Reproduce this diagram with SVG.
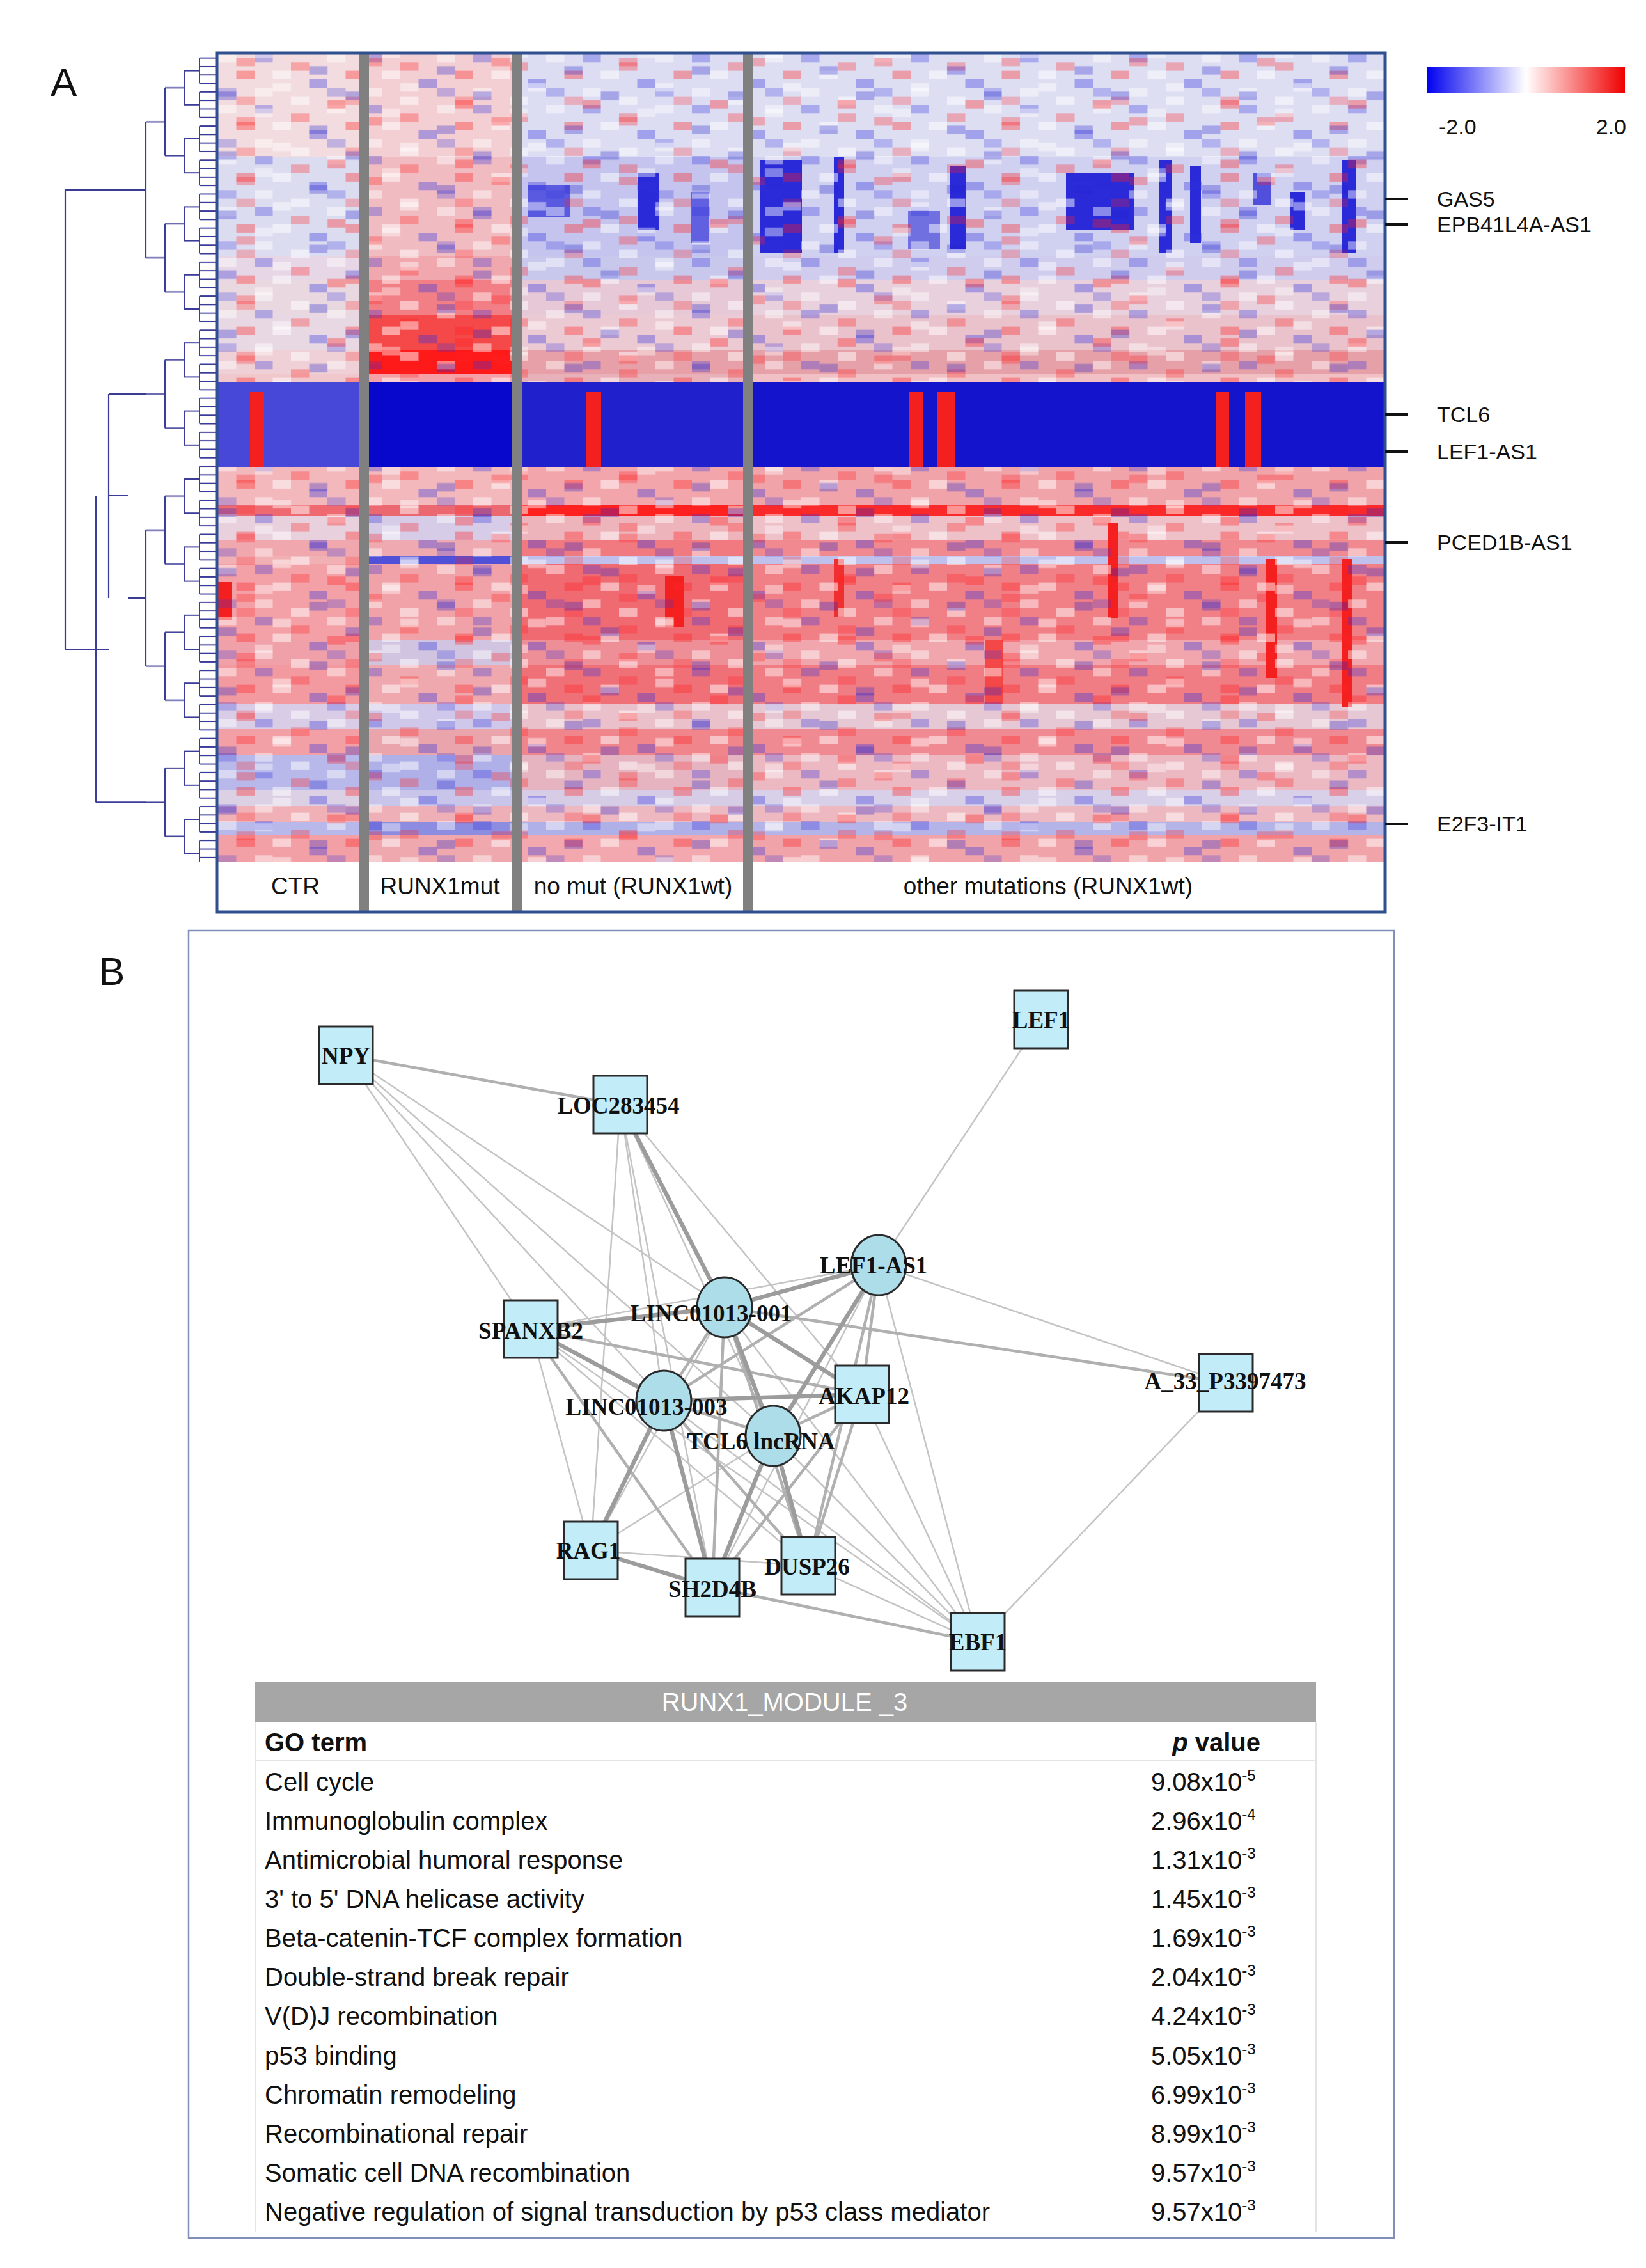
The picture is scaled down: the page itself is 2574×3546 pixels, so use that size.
<svg xmlns="http://www.w3.org/2000/svg" width="2574" height="3546" viewBox="0 0 2574 3546">
<style>
.lbl{font-family:"Liberation Sans",Arial,sans-serif;font-size:34px;fill:#111}
.cl{font-family:"Liberation Sans",Arial,sans-serif;font-size:37px;fill:#111;text-anchor:middle}
.nl{font-family:"Liberation Serif","Times New Roman",serif;font-weight:bold;font-size:37px;fill:#111;text-anchor:middle}
.sq{fill:#c2ecf8;stroke:#2a2a2a;stroke-width:3}
.ci{fill:#acdde9;stroke:#2a2a2a;stroke-width:3}
.e1{stroke:#c4c4c4;stroke-width:2.5;fill:none}
.e2{stroke:#b0b0b0;stroke-width:4.5;fill:none}
.e3{stroke:#9c9c9c;stroke-width:6.5;fill:none}
.tt{font-family:"Liberation Sans",Arial,sans-serif;font-size:40px;fill:#111}
.dd{stroke:#3b3b98;stroke-width:2.2;fill:none}
</style>
<defs>
<linearGradient id="lg" x1="0" x2="1" y1="0" y2="0">
<stop offset="0" stop-color="#0000f0"/><stop offset="0.45" stop-color="#e6e6ff"/><stop offset="0.5" stop-color="#ffffff"/><stop offset="0.55" stop-color="#ffe6e6"/><stop offset="1" stop-color="#f00000"/>
</linearGradient>
<pattern id="nz1" patternUnits="userSpaceOnUse" x="341" y="84" width="171" height="80">
<rect x="0" y="0" width="28.5" height="13.3" fill="#fff" opacity="0.45"/>
<rect x="57" y="0" width="28.5" height="13.3" fill="#3030e0" opacity="0.3"/>
<rect x="114" y="13.3" width="28.5" height="13.3" fill="#ff2020" opacity="0.3"/>
<rect x="28.5" y="26.6" width="28.5" height="13.3" fill="#ff2020" opacity="0.35"/>
<rect x="85.5" y="26.6" width="28.5" height="13.3" fill="#fff" opacity="0.5"/>
<rect x="142.5" y="40" width="28.5" height="13.3" fill="#3030e0" opacity="0.35"/>
<rect x="0" y="53.3" width="28.5" height="13.3" fill="#3030e0" opacity="0.25"/>
<rect x="57" y="53.3" width="28.5" height="13.3" fill="#fff" opacity="0.45"/>
<rect x="114" y="66.6" width="28.5" height="13.3" fill="#fff" opacity="0.5"/>
<rect x="28.5" y="66.6" width="28.5" height="13.3" fill="#ff2020" opacity="0.25"/>
</pattern>
<pattern id="nz2" patternUnits="userSpaceOnUse" x="341" y="90" width="199.5" height="93.1">
<rect x="28.5" y="0" width="28.5" height="13.3" fill="#ff2020" opacity="0.3"/>
<rect x="142.5" y="13.3" width="28.5" height="13.3" fill="#2020d0" opacity="0.3"/>
<rect x="85.5" y="39.9" width="28.5" height="13.3" fill="#fff" opacity="0.45"/>
<rect x="0" y="53.2" width="28.5" height="13.3" fill="#2020d0" opacity="0.3"/>
<rect x="171" y="66.5" width="28.5" height="13.3" fill="#ff2020" opacity="0.35"/>
<rect x="57" y="79.8" width="28.5" height="13.3" fill="#fff" opacity="0.4"/>
</pattern>
<pattern id="d0" patternUnits="userSpaceOnUse" x="0" y="84" width="338" height="13.3">
<path d="M312 6.65H338" stroke="#3b3b98" stroke-width="2"/>
</pattern>
<pattern id="d1" patternUnits="userSpaceOnUse" x="0" y="84" width="338" height="53.2">
<path d="M312 6.65V46.55M288 26.6H312" stroke="#3b3b98" stroke-width="2" fill="none"/>
</pattern>
<pattern id="d2" patternUnits="userSpaceOnUse" x="0" y="84" width="338" height="106.4">
<path d="M288 26.6V79.8M258 53.2H288" stroke="#3b3b98" stroke-width="2" fill="none"/>
</pattern>
<pattern id="d3" patternUnits="userSpaceOnUse" x="0" y="84" width="338" height="212.8">
<path d="M258 53.2V159.6M228 106.4H258" stroke="#3b3b98" stroke-width="2" fill="none"/>
</pattern>
</defs>
<rect width="2574" height="3546" fill="#fff"/>

<g id="panelA">
<text x="79" y="150" font-family="Liberation Sans,Arial,sans-serif" font-size="62" fill="#111">A</text>
<g id="dendrogram">
<rect x="220" y="84" width="118" height="1264" fill="url(#d0)"/>
<rect x="220" y="84" width="118" height="1264" fill="url(#d1)"/>
<rect x="220" y="84" width="118" height="1264" fill="url(#d2)"/>
<rect x="220" y="84" width="118" height="1277" fill="url(#d3)"/>
<path class="dd" d="M228 190.4V403.2M190 297H228M228 828.8V1041.6M200 935H228M170 616H228M170 616V935M170 775H200M228 1254.4H150M150 775V1254.4M150 1015H170M102 297V1015M102 297H190M102 1015H150"/>
</g>
<g id="heatmap">
<g id="cells">
<rect x="341" y="84" width="220" height="162" fill="#f2dcdf"/><rect x="577" y="84" width="224" height="162" fill="#f3cfd3"/><rect x="817" y="84" width="345" height="162" fill="#dcdcf2"/><rect x="1178" y="84" width="986" height="162" fill="#dedef3"/>
<rect x="341" y="246" width="220" height="154" fill="#dcdcf0"/><rect x="577" y="246" width="224" height="154" fill="#f1bcc1"/><rect x="817" y="246" width="345" height="154" fill="#c4c4ee"/><rect x="1178" y="246" width="986" height="154" fill="#d0d0f0"/>
<rect x="341" y="400" width="220" height="37" fill="#e6d6e6"/><rect x="577" y="400" width="224" height="37" fill="#f0a8ae"/><rect x="817" y="400" width="345" height="37" fill="#c8c8ec"/><rect x="1178" y="400" width="986" height="37" fill="#d0cced"/>
<rect x="341" y="437" width="220" height="56" fill="#ead8e0"/><rect x="577" y="437" width="224" height="56" fill="#f27f86"/><rect x="817" y="437" width="345" height="56" fill="#e6c8d6"/><rect x="1178" y="437" width="986" height="56" fill="#e8d0dc"/>
<rect x="341" y="493" width="220" height="55" fill="#e8d8e4"/><rect x="577" y="493" width="224" height="55" fill="#f54848"/><rect x="817" y="493" width="345" height="55" fill="#eccad4"/><rect x="1178" y="493" width="986" height="55" fill="#eac2cc"/>
<rect x="341" y="548" width="220" height="37" fill="#eed0d6"/><rect x="577" y="548" width="224" height="37" fill="#ff1a1a"/><rect x="817" y="548" width="345" height="37" fill="#e8a0a8"/><rect x="1178" y="548" width="986" height="37" fill="#e6a0a8"/>
<rect x="341" y="585" width="220" height="13" fill="#f0c8cc"/><rect x="577" y="585" width="224" height="13" fill="#f4a0a6"/><rect x="817" y="585" width="345" height="13" fill="#e8b0b8"/><rect x="1178" y="585" width="986" height="13" fill="#f0c0c4"/>
<rect x="341" y="598" width="220" height="132" fill="#4848d8"/><rect x="577" y="598" width="224" height="132" fill="#0808cc"/><rect x="817" y="598" width="345" height="132" fill="#2020cc"/><rect x="1178" y="598" width="986" height="132" fill="#1414cc"/>
<rect x="341" y="730" width="220" height="60" fill="#f3b8bc"/><rect x="577" y="730" width="224" height="60" fill="#f2b8bc"/><rect x="817" y="730" width="345" height="60" fill="#f2a6ac"/><rect x="1178" y="730" width="986" height="60" fill="#f0a4aa"/>
<rect x="341" y="790" width="220" height="16" fill="#ef6a70"/><rect x="577" y="790" width="224" height="16" fill="#ec6870"/><rect x="817" y="790" width="345" height="16" fill="#ff2020"/><rect x="1178" y="790" width="986" height="16" fill="#fa2a2a"/>
<rect x="341" y="806" width="220" height="39" fill="#e8d0dc"/><rect x="577" y="806" width="224" height="39" fill="#d6cce8"/><rect x="817" y="806" width="345" height="39" fill="#eeb4bc"/><rect x="1178" y="806" width="986" height="39" fill="#eec0c8"/>
<rect x="341" y="845" width="220" height="25" fill="#f0a8ae"/><rect x="577" y="845" width="224" height="25" fill="#eeaab0"/><rect x="817" y="845" width="345" height="25" fill="#f07a80"/><rect x="1178" y="845" width="986" height="25" fill="#f08a90"/>
<rect x="341" y="870" width="220" height="12" fill="#f0b0b4"/><rect x="577" y="870" width="224" height="12" fill="#5050d8"/><rect x="817" y="870" width="345" height="12" fill="#c0c0ec"/><rect x="1178" y="870" width="986" height="12" fill="#c0c0ec"/>
<rect x="341" y="882" width="220" height="118" fill="#f3a0a6"/><rect x="577" y="882" width="224" height="118" fill="#f1a2a8"/><rect x="817" y="882" width="345" height="118" fill="#f06a72"/><rect x="1178" y="882" width="986" height="118" fill="#f17f86"/>
<rect x="341" y="1000" width="220" height="40" fill="#f0a0a8"/><rect x="577" y="1000" width="224" height="40" fill="#d0c4e0"/><rect x="817" y="1000" width="345" height="40" fill="#ee8e96"/><rect x="1178" y="1000" width="986" height="40" fill="#f0a6ac"/>
<rect x="341" y="1040" width="220" height="60" fill="#f29aa0"/><rect x="577" y="1040" width="224" height="60" fill="#efa8ae"/><rect x="817" y="1040" width="345" height="60" fill="#f07078"/><rect x="1178" y="1040" width="986" height="60" fill="#f07c84"/>
<rect x="341" y="1100" width="220" height="40" fill="#d8cce6"/><rect x="577" y="1100" width="224" height="40" fill="#d0c8ea"/><rect x="817" y="1100" width="345" height="40" fill="#eac0ca"/><rect x="1178" y="1100" width="986" height="40" fill="#e6c8d4"/>
<rect x="341" y="1140" width="220" height="40" fill="#f2a0a6"/><rect x="577" y="1140" width="224" height="40" fill="#eaa4ac"/><rect x="817" y="1140" width="345" height="40" fill="#f0868c"/><rect x="1178" y="1140" width="986" height="40" fill="#f08a92"/>
<rect x="341" y="1180" width="220" height="55" fill="#b8b8ea"/><rect x="577" y="1180" width="224" height="55" fill="#b0b0e8"/><rect x="817" y="1180" width="345" height="55" fill="#e6b4c0"/><rect x="1178" y="1180" width="986" height="55" fill="#ecb8c2"/>
<rect x="341" y="1235" width="220" height="25" fill="#dcd0e4"/><rect x="577" y="1235" width="224" height="25" fill="#c8c4ea"/><rect x="817" y="1235" width="345" height="25" fill="#d6cce6"/><rect x="1178" y="1235" width="986" height="25" fill="#d8d0e8"/>
<rect x="341" y="1260" width="220" height="25" fill="#f0b0b6"/><rect x="577" y="1260" width="224" height="25" fill="#eeb0b6"/><rect x="817" y="1260" width="345" height="25" fill="#eeb8c0"/><rect x="1178" y="1260" width="986" height="25" fill="#eeb8c0"/>
<rect x="341" y="1285" width="220" height="20" fill="#b8b8ea"/><rect x="577" y="1285" width="224" height="20" fill="#8c8ce0"/><rect x="817" y="1285" width="345" height="20" fill="#b0b0e8"/><rect x="1178" y="1285" width="986" height="20" fill="#b4b4e8"/>
<rect x="341" y="1305" width="220" height="43" fill="#f2a0a6"/><rect x="577" y="1305" width="224" height="43" fill="#eea8ae"/><rect x="817" y="1305" width="345" height="43" fill="#f2a8ae"/><rect x="1178" y="1305" width="986" height="43" fill="#f0a4aa"/>
<g fill="#2a2ad8">
<rect x="1188" y="250" width="66" height="146"/><rect x="1304" y="246" width="16" height="150"/><rect x="1485" y="260" width="25" height="130"/><rect x="1667" y="270" width="107" height="90"/><rect x="1812" y="250" width="20" height="146"/><rect x="1861" y="260" width="17" height="120"/><rect x="2017" y="300" width="23" height="60"/><rect x="2099" y="250" width="21" height="146"/><rect x="998" y="270" width="33" height="90"/><rect x="825" y="290" width="66" height="50" fill="#5a5ae0"/><rect x="1080" y="300" width="28" height="80" fill="#6060e0"/><rect x="1420" y="330" width="50" height="60" fill="#7070e0"/><rect x="1960" y="270" width="28" height="50" fill="#5050dc"/>
</g>
<g fill="#f42020">
<rect x="391" y="613" width="22" height="117"/><rect x="917" y="613" width="23" height="117"/><rect x="1422" y="613" width="22" height="117"/><rect x="1465" y="613" width="28" height="117"/><rect x="1901" y="613" width="21" height="117"/><rect x="1947" y="613" width="25" height="117"/>
<rect x="1304" y="874" width="16" height="90" fill="#f03030"/><rect x="1733" y="818" width="16" height="148"/><rect x="1980" y="874" width="17" height="186"/><rect x="2099" y="874" width="16" height="232"/><rect x="341" y="910" width="22" height="60"/><rect x="1040" y="900" width="30" height="80"/><rect x="1540" y="1000" width="28" height="100" fill="#f44848"/>
</g>
<rect x="341" y="84" width="1823" height="514" fill="url(#nz1)"/>
<rect x="341" y="84" width="1823" height="514" fill="url(#nz2)"/>
<rect x="341" y="730" width="1823" height="618" fill="url(#nz1)"/>
<rect x="341" y="730" width="1823" height="618" fill="url(#nz2)"/>
</g>
<rect x="341" y="1348" width="1823" height="77" fill="#fff"/>
<g fill="#808080"><rect x="561" y="84" width="16" height="1341"/><rect x="801" y="84" width="16" height="1341"/><rect x="1162" y="84" width="16" height="1341"/></g>
<rect x="339" y="83" width="1827" height="1343" fill="none" stroke="#2f4f8f" stroke-width="5"/>
<g class="cl">
<text x="462" y="1398">CTR</text><text x="688" y="1398">RUNX1mut</text><text x="990" y="1398">no mut (RUNX1wt)</text><text x="1639" y="1398">other mutations (RUNX1wt)</text>
</g>
</g>
<g id="legend">
<rect x="2231" y="104" width="310" height="42" fill="url(#lg)"/>
<text class="lbl" x="2250" y="210" font-size="40">-2.0</text>
<text class="lbl" x="2543" y="210" font-size="40" text-anchor="end">2.0</text>
</g>
<g id="genelabels">
<g stroke="#111" stroke-width="4"><path d="M2166 311H2202M2166 351H2202M2166 648H2202M2166 706H2202M2166 848H2202M2166 1288H2202"/></g>
<g class="lbl"><text x="2247" y="323">GAS5</text><text x="2247" y="363">EPB41L4A-AS1</text><text x="2247" y="660">TCL6</text><text x="2247" y="718">LEF1-AS1</text><text x="2247" y="860">PCED1B-AS1</text><text x="2247" y="1300">E2F3-IT1</text></g>
</g>
</g>

<g id="panelB">
<text x="154" y="1540" font-family="Liberation Sans,Arial,sans-serif" font-size="62" fill="#111">B</text>
<rect x="295" y="1455" width="1885" height="2044" fill="none" stroke="#8090b8" stroke-width="2.5"/>
<g id="connectors">
<g class="e1">
<line x1="1628" y1="1594" x2="1374" y2="1978"/><line x1="541" y1="1650" x2="830" y2="2078"/><line x1="541" y1="1650" x2="1133" y2="2044"/><line x1="541" y1="1650" x2="1038" y2="2190"/><line x1="541" y1="1650" x2="1209" y2="2245"/>
<line x1="970" y1="1727" x2="1038" y2="2190"/><line x1="970" y1="1727" x2="1209" y2="2245"/><line x1="970" y1="1727" x2="1348" y2="2180"/><line x1="970" y1="1727" x2="924" y2="2424"/><line x1="970" y1="1727" x2="1114" y2="2482"/>
<line x1="1374" y1="1978" x2="1917" y2="2162"/><line x1="1374" y1="1978" x2="1529" y2="2567"/><line x1="1374" y1="1978" x2="830" y2="2078"/><line x1="1374" y1="1978" x2="1114" y2="2482"/>
<line x1="1133" y1="2044" x2="1529" y2="2567"/><line x1="1133" y1="2044" x2="924" y2="2424"/>
<line x1="830" y1="2078" x2="924" y2="2424"/><line x1="830" y1="2078" x2="1264" y2="2448"/><line x1="830" y1="2078" x2="1529" y2="2567"/>
<line x1="1038" y1="2190" x2="1529" y2="2567"/><line x1="1209" y1="2245" x2="1529" y2="2567"/><line x1="1209" y1="2245" x2="924" y2="2424"/>
<line x1="1348" y1="2180" x2="1529" y2="2567"/><line x1="1917" y1="2162" x2="1529" y2="2567"/><line x1="1264" y1="2448" x2="1529" y2="2567"/><line x1="924" y1="2424" x2="1264" y2="2448"/>
</g>
<g class="e2">
<line x1="541" y1="1650" x2="970" y2="1727"/><line x1="1133" y1="2044" x2="1917" y2="2162"/><line x1="1133" y1="2044" x2="1038" y2="2190"/><line x1="1133" y1="2044" x2="1114" y2="2482"/><line x1="1133" y1="2044" x2="1264" y2="2448"/>
<line x1="830" y1="2078" x2="1348" y2="2180"/><line x1="830" y1="2078" x2="1114" y2="2482"/><line x1="1038" y1="2190" x2="1264" y2="2448"/><line x1="1038" y1="2190" x2="1209" y2="2245"/>
<line x1="1374" y1="1978" x2="1038" y2="2190"/><line x1="1374" y1="1978" x2="1348" y2="2180"/><line x1="1374" y1="1978" x2="1264" y2="2448"/>
<line x1="1348" y1="2180" x2="1264" y2="2448"/><line x1="1348" y1="2180" x2="1114" y2="2482"/><line x1="1209" y1="2245" x2="1348" y2="2180"/><line x1="1114" y1="2482" x2="1529" y2="2567"/>
</g>
<g class="e3">
<line x1="970" y1="1727" x2="1133" y2="2044"/><line x1="1374" y1="1978" x2="1133" y2="2044"/><line x1="1374" y1="1978" x2="1209" y2="2245"/><line x1="1133" y1="2044" x2="830" y2="2078"/>
<line x1="1133" y1="2044" x2="1348" y2="2180"/><line x1="1133" y1="2044" x2="1209" y2="2245"/><line x1="830" y1="2078" x2="1038" y2="2190"/><line x1="1038" y1="2190" x2="1348" y2="2180"/>
<line x1="1038" y1="2190" x2="924" y2="2424"/><line x1="1038" y1="2190" x2="1114" y2="2482"/><line x1="1209" y1="2245" x2="1114" y2="2482"/><line x1="1209" y1="2245" x2="1264" y2="2448"/><line x1="924" y1="2424" x2="1114" y2="2482"/>
</g>
</g>
<g id="n-NPY"><rect class="sq" x="499" y="1605" width="84" height="90"/><text class="nl" x="541" y="1663">NPY</text></g>
<g id="n-LEF1"><rect class="sq" x="1586" y="1549" width="84" height="90"/><text class="nl" x="1628" y="1607">LEF1</text></g>
<g id="n-LOC283454"><rect class="sq" x="928" y="1682" width="84" height="90"/><text class="nl" x="967" y="1741">LOC283454</text></g>
<g id="n-SPANXB2"><rect class="sq" x="788" y="2033" width="84" height="90"/><text class="nl" x="830" y="2093">SPANXB2</text></g>
<g id="n-AKAP12"><rect class="sq" x="1306" y="2135" width="84" height="90"/><text class="nl" x="1351" y="2195">AKAP12</text></g>
<g id="n-A33"><rect class="sq" x="1875" y="2117" width="84" height="90"/><text class="nl" x="1916" y="2172">A_33_P3397473</text></g>
<g id="n-RAG1"><rect class="sq" x="882" y="2379" width="84" height="90"/><text class="nl" x="920" y="2437">RAG1</text></g>
<g id="n-DUSP26"><rect class="sq" x="1222" y="2403" width="84" height="90"/><text class="nl" x="1262" y="2462">DUSP26</text></g>
<g id="n-SH2D4B"><rect class="sq" x="1072" y="2437" width="84" height="90"/><text class="nl" x="1114" y="2497">SH2D4B</text></g>
<g id="n-EBF1"><rect class="sq" x="1487" y="2522" width="84" height="90"/><text class="nl" x="1529" y="2580">EBF1</text></g>
<g id="n-LEF1-AS1"><ellipse class="ci" cx="1374" cy="1978" rx="43" ry="47"/><text class="nl" x="1366" y="1991">LEF1-AS1</text></g>
<g id="n-LINC01013-001"><ellipse class="ci" cx="1133" cy="2044" rx="43" ry="47"/><text class="nl" x="1112" y="2066">LINC01013-001</text></g>
<g id="n-LINC01013-003"><ellipse class="ci" cx="1038" cy="2190" rx="43" ry="47"/><text class="nl" x="1011" y="2212">LINC01013-003</text></g>
<g id="n-TCL6"><ellipse class="ci" cx="1209" cy="2245" rx="43" ry="47"/><text class="nl" x="1190" y="2266">TCL6 lncRNA</text></g>

<g id="table">
<rect x="399" y="2630" width="1659" height="62" fill="#a6a6a6"/>
<text x="1227" y="2675" font-family="Liberation Sans,Arial,sans-serif" font-size="40" fill="#fff" text-anchor="middle">RUNX1_MODULE _3</text>
<path d="M399 2692V3490M2058 2692V3490M399 2752H2058" stroke="#e4e4e4" stroke-width="2" fill="none"/>
<text class="tt" x="414" y="2738" font-weight="bold">GO term</text>
<text class="tt" x="1971" y="2738" font-weight="bold" text-anchor="end"><tspan font-style="italic">p</tspan> value</text>
<g class="tt">
<text x="414" y="2800">Cell cycle</text>
<text x="414" y="2861">Immunoglobulin complex</text>
<text x="414" y="2922">Antimicrobial humoral response</text>
<text x="414" y="2983">3' to 5' DNA helicase activity</text>
<text x="414" y="3044">Beta-catenin-TCF complex formation</text>
<text x="414" y="3105">Double-strand break repair</text>
<text x="414" y="3166">V(D)J recombination</text>
<text x="414" y="3228">p53 binding</text>
<text x="414" y="3289">Chromatin remodeling</text>
<text x="414" y="3350">Recombinational repair</text>
<text x="414" y="3411">Somatic cell DNA recombination</text>
<text x="414" y="3472">Negative regulation of signal transduction by p53 class mediator</text>
</g>
<g class="tt">
<text x="1800" y="2800">9.08x10<tspan dy="-16" font-size="24">-5</tspan></text>
<text x="1800" y="2861">2.96x10<tspan dy="-16" font-size="24">-4</tspan></text>
<text x="1800" y="2922">1.31x10<tspan dy="-16" font-size="24">-3</tspan></text>
<text x="1800" y="2983">1.45x10<tspan dy="-16" font-size="24">-3</tspan></text>
<text x="1800" y="3044">1.69x10<tspan dy="-16" font-size="24">-3</tspan></text>
<text x="1800" y="3105">2.04x10<tspan dy="-16" font-size="24">-3</tspan></text>
<text x="1800" y="3166">4.24x10<tspan dy="-16" font-size="24">-3</tspan></text>
<text x="1800" y="3228">5.05x10<tspan dy="-16" font-size="24">-3</tspan></text>
<text x="1800" y="3289">6.99x10<tspan dy="-16" font-size="24">-3</tspan></text>
<text x="1800" y="3350">8.99x10<tspan dy="-16" font-size="24">-3</tspan></text>
<text x="1800" y="3411">9.57x10<tspan dy="-16" font-size="24">-3</tspan></text>
<text x="1800" y="3472">9.57x10<tspan dy="-16" font-size="24">-3</tspan></text>
</g>
</g>
</g>
</svg>
